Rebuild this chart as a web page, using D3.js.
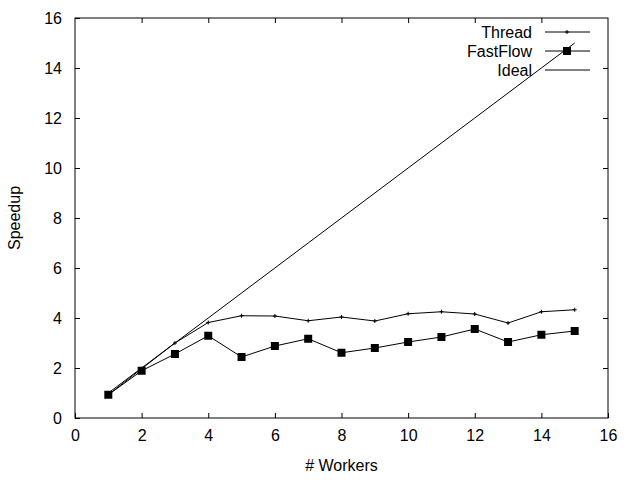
<!DOCTYPE html>
<html>
<head>
<meta charset="utf-8">
<script src="https://d3js.org/d3.v7.min.js"></script>
<style>
  body { margin: 0; background: #fff; }
  text { font-family: "Liberation Sans", Arial, sans-serif; font-size: 16px; fill: #000; }
</style>
</head>
<body>
<div id="chart"></div>
<script>
const workers = [1, 2, 3, 4, 5, 6, 7, 8, 9, 10, 11, 12, 13, 14, 15];
const threadSpeedup = [0.93, 1.97, 3.0, 3.82, 4.09, 4.08, 3.89, 4.04, 3.88, 4.17, 4.25, 4.16, 3.8, 4.25, 4.33];
const fastflowSpeedup = [0.93, 1.89, 2.56, 3.29, 2.44, 2.88, 3.17, 2.61, 2.8, 3.04, 3.24, 3.56, 3.04, 3.33, 3.48];
const idealSpeedup = [1, 2, 3, 4, 5, 6, 7, 8, 9, 10, 11, 12, 13, 14, 15];
const xTicks = [0, 2, 4, 6, 8, 10, 12, 14, 16];
const yTicks = [0, 2, 4, 6, 8, 10, 12, 14, 16];
const seriesNames = ['Thread', 'FastFlow', 'Ideal'];

const margin = { top: 18, bottom: 62, left: 75, right: 32 };
const width = 640 - margin.left - margin.right;
const height = 480 - margin.top - margin.bottom;

const svg = d3.select('#chart')
    .append('svg')
    .attr('width', 640)
    .attr('height', 480);

const g = svg.append('g')
    .attr('transform', `translate(${margin.left}, ${margin.top})`);

const xScale = d3.scaleLinear().domain([0, 16]).range([0, width]);
const yScale = d3.scaleLinear().domain([0, 16]).range([height, 0]);

// axes with inward ticks, mirrored on top/right like gnuplot
const tickLen = 5;
g.append('g')
    .attr('transform', `translate(0, ${height})`)
    .call(d3.axisBottom(xScale).tickValues(xTicks).tickSizeInner(-tickLen).tickSizeOuter(0).tickPadding(12));
g.append('g')
    .call(d3.axisTop(xScale).tickValues(xTicks.slice(1, -1)).tickSizeInner(-tickLen).tickSizeOuter(0).tickFormat(''));
g.append('g')
    .call(d3.axisLeft(yScale).tickValues(yTicks).tickSizeInner(-tickLen).tickSizeOuter(0).tickPadding(13));
g.append('g')
    .attr('transform', `translate(${width}, 0)`)
    .call(d3.axisRight(yScale).tickValues(yTicks.slice(1, -1)).tickSizeInner(-tickLen).tickSizeOuter(0).tickFormat(''));

g.selectAll('.domain').remove();
g.selectAll('.tick line').attr('stroke', '#000');
g.selectAll('.tick text')
    .style('font-size', '16px')
    .style('font-family', '"Liberation Sans", Arial, sans-serif')
    .attr('fill', '#000');

g.append('rect')
    .attr('width', width)
    .attr('height', height)
    .attr('fill', 'none')
    .attr('stroke', '#000')
    .attr('stroke-width', 1);

const line = d3.line()
    .x((d, i) => xScale(workers[i]))
    .y(d => yScale(d));

// Ideal
g.append('path')
    .attr('d', line(idealSpeedup))
    .attr('fill', 'none')
    .attr('stroke', '#000')
    .attr('stroke-width', 1);

// Thread
g.append('path')
    .attr('d', line(threadSpeedup))
    .attr('fill', 'none')
    .attr('stroke', '#000')
    .attr('stroke-width', 1);

const plus = (sel, cx, cy) => {
    sel.append('path')
        .attr('d', `M${cx - 2},${cy}h4M${cx},${cy - 2}v4`)
        .attr('stroke', '#000')
        .attr('stroke-width', 1);
};
threadSpeedup.forEach((v, i) => plus(g, xScale(workers[i]), yScale(v)));

// FastFlow
g.append('path')
    .attr('d', line(fastflowSpeedup))
    .attr('fill', 'none')
    .attr('stroke', '#000')
    .attr('stroke-width', 1);

g.selectAll('.ff')
    .data(fastflowSpeedup)
    .enter()
    .append('rect')
    .attr('x', (d, i) => xScale(workers[i]) - 4)
    .attr('y', d => yScale(d) - 4)
    .attr('width', 8)
    .attr('height', 8)
    .attr('fill', '#000');

// legend
const legend = svg.append('g');
const rowY = [32, 51, 70];
seriesNames.forEach((name, i) => {
    legend.append('text')
        .attr('x', 532)
        .attr('y', rowY[i])
        .attr('dy', '0.35em')
        .attr('text-anchor', 'end')
        .text(name);
    legend.append('line')
        .attr('x1', 545).attr('x2', 590)
        .attr('y1', rowY[i]).attr('y2', rowY[i])
        .attr('stroke', '#000');
});
plus(legend, 567, rowY[0]);
legend.append('rect')
    .attr('x', 563).attr('y', rowY[1] - 4)
    .attr('width', 8).attr('height', 8)
    .attr('fill', '#000');

svg.append('text')
    .attr('x', margin.left + width / 2)
    .attr('y', 471)
    .attr('text-anchor', 'middle')
    .text('# Workers');

svg.append('text')
    .attr('transform', `translate(20, ${margin.top + height / 2}) rotate(-90)`)
    .attr('text-anchor', 'middle')
    .text('Speedup');
</script>
</body>
</html>
